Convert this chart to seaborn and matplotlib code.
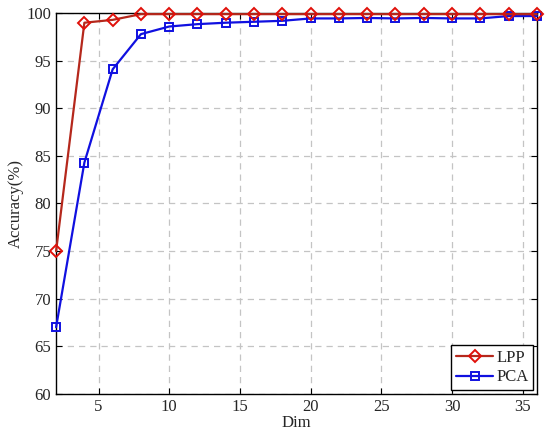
import numpy as np
import pandas as pd
import seaborn as sns
import matplotlib
matplotlib.use("Agg")
import matplotlib.pyplot as plt

# data
dims = [2, 4, 6, 8, 10, 12, 14, 16, 18, 20, 22, 24, 26, 28, 30, 32, 34, 36]
lpp = [75.0, 99.0, 99.3, 99.9, 99.9, 99.9, 99.9, 99.9, 99.9, 99.9, 99.9, 99.9,
       99.9, 99.9, 99.9, 99.9, 99.9, 99.9]
pca = [67.0, 84.3, 94.1, 97.8, 98.6, 98.85, 99.0, 99.1, 99.2, 99.45, 99.45, 99.5,
       99.45, 99.5, 99.45, 99.45, 99.7, 99.7]

df = pd.DataFrame({"Dim": dims, "LPP": lpp, "PCA": pca})

sns.set_style("ticks")
plt.rcParams["font.family"] = ["Liberation Serif", "DejaVu Serif"]

fig = plt.figure(figsize=(5.5, 4.4), dpi=100)
ax = fig.add_axes([0.102, 0.105, 0.874, 0.865])

sns.lineplot(data=df, x="Dim", y="LPP", ax=ax, color="#b5281c", lw=1.6,
             marker="D", markersize=6, markerfacecolor="none",
             markeredgecolor="#e0100a", markeredgewidth=1.4, label="LPP",
             zorder=4, clip_on=False)
sns.lineplot(data=df, x="Dim", y="PCA", ax=ax, color="#1010e0", lw=1.6,
             marker="s", markersize=6, markerfacecolor="none",
             markeredgecolor="#1010e0", markeredgewidth=1.4, label="PCA",
             zorder=3, clip_on=False)

ax.set_xlim(2, 36)
ax.set_ylim(60, 100)
ax.set_xticks([5, 10, 15, 20, 25, 30, 35])
ax.set_yticks(np.arange(60, 101, 5))
ax.grid(True, ls=(0, (5, 4)), color="#c4c4c4", lw=0.9)
ax.tick_params(direction="in", top=True, right=True, labelsize=12, length=4, color="black")
for s in ax.spines.values():
    s.set_color("black")
    s.set_linewidth(1.0)
ax.set_xlabel("Dim", fontsize=12, labelpad=0)
ax.set_ylabel("Accuracy(%)", fontsize=12, labelpad=2)

leg = ax.legend(loc="lower right", fontsize=12, fancybox=False, framealpha=1,
                edgecolor="black", borderpad=0.3, handlelength=2.2,
                handletextpad=0.2, borderaxespad=0.2, labelspacing=0.2)
leg.get_frame().set_linewidth(1.0)

fig.savefig("out.png", dpi=100)
